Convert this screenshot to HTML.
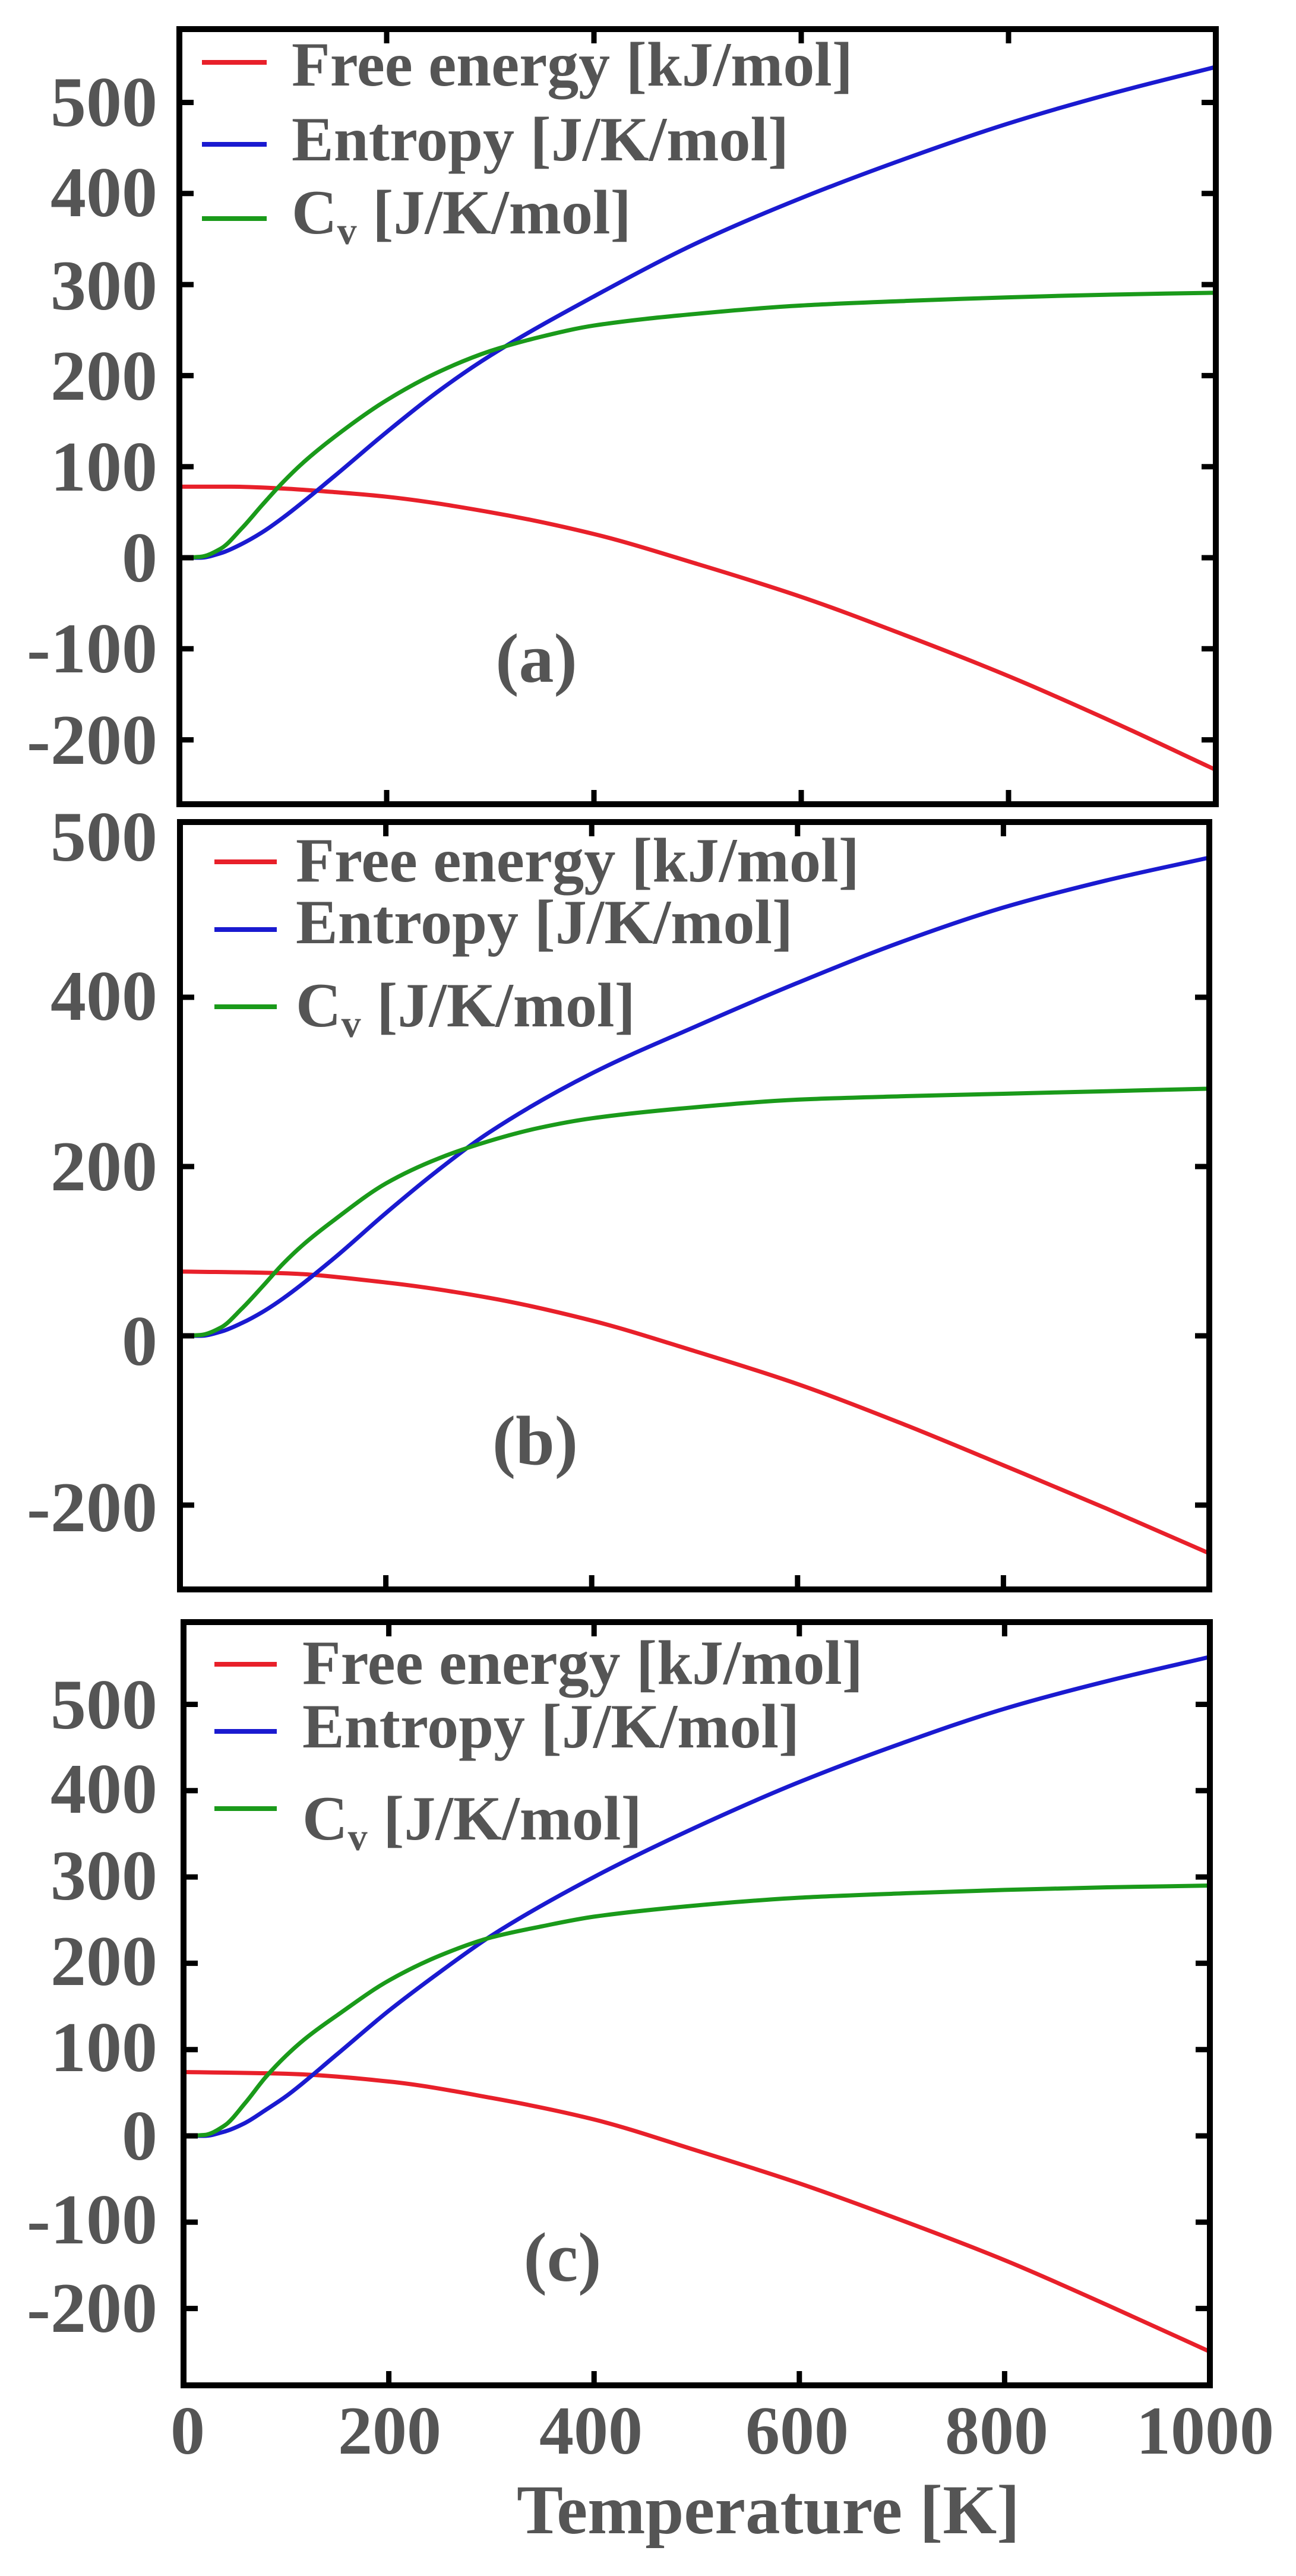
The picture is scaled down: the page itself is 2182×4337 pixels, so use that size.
<!DOCTYPE html>
<html><head><meta charset="utf-8">
<style>
html,body{margin:0;padding:0;background:#fff;}
svg{display:block;}
text{font-family:"Liberation Serif","Times New Roman",serif;font-weight:bold;fill:#555;}
</style></head>
<body>
<svg id="s" width="2182" height="4337" viewBox="0 0 2182 4337" xmlns="http://www.w3.org/2000/svg">
<rect width="2182" height="4337" fill="#fff"/>
<g id="g"></g>
<g font-size="120" text-anchor="end">
<text x="265" y="212">500</text>
<text x="265" y="364">400</text>
<text x="265" y="521">300</text>
<text x="265" y="673">200</text>
<text x="265" y="826">100</text>
<text x="265" y="979">0</text>
<text x="265" y="1132">-100</text>
<text x="265" y="1286">-200</text>
<text x="265" y="1449">500</text>
<text x="265" y="1717">400</text>
<text x="265" y="2004">200</text>
<text x="265" y="2298">0</text>
<text x="265" y="2578">-200</text>
<text x="265" y="2910">500</text>
<text x="265" y="3052">400</text>
<text x="265" y="3198">300</text>
<text x="265" y="3342">200</text>
<text x="265" y="3487">100</text>
<text x="265" y="3636">0</text>
<text x="265" y="3777">-100</text>
<text x="265" y="3926">-200</text>
</g>
<g font-size="116" text-anchor="middle">
<text x="316" y="4131">0</text>
<text x="656" y="4131">200</text>
<text x="995" y="4131">400</text>
<text x="1342" y="4131">600</text>
<text x="1678" y="4131">800</text>
<text x="2029" y="4131">1000</text>
</g>
<text x="870" y="4265" font-size="118" textLength="847" lengthAdjust="spacingAndGlyphs">Temperature [K]</text>
<g font-size="118" text-anchor="middle">
<text x="903" y="1148">(a)</text>
<text x="901" y="2465">(b)</text>
<text x="947" y="3840">(c)</text>
</g>
<g font-size="106">
<text x="491" y="144" textLength="945" lengthAdjust="spacingAndGlyphs">Free energy [kJ/mol]</text>
<text x="491" y="270">Entropy [J/K/mol]</text>
<text x="491" y="393">C<tspan font-size="66" dy="18">v</tspan><tspan dy="-18"> [J/K/mol]</tspan></text>
<text x="498" y="1484" textLength="949" lengthAdjust="spacingAndGlyphs">Free energy [kJ/mol]</text>
<text x="498" y="1588">Entropy [J/K/mol]</text>
<text x="498" y="1728">C<tspan font-size="66" dy="18">v</tspan><tspan dy="-18"> [J/K/mol]</tspan></text>
<text x="509" y="2835" textLength="944" lengthAdjust="spacingAndGlyphs">Free energy [kJ/mol]</text>
<text x="509" y="2942">Entropy [J/K/mol]</text>
<text x="509" y="3097">C<tspan font-size="66" dy="18">v</tspan><tspan dy="-18"> [J/K/mol]</tspan></text>
</g>
</svg>
<script>
(function(){
var NS="http://www.w3.org/2000/svg",g=document.getElementById("g");
function el(n,a){var e=document.createElementNS(NS,n);for(var k in a)e.setAttribute(k,a[k]);g.appendChild(e);return e;}
function path(pts){
 var n=pts.length,d=[],m=[],i;
 for(i=0;i<n-1;i++)d[i]=(pts[i+1][1]-pts[i][1])/(pts[i+1][0]-pts[i][0]);
 m[0]=d[0];m[n-1]=d[n-2];
 for(i=1;i<n-1;i++){
  if(d[i-1]*d[i]<=0)m[i]=0;
  else{var h0=pts[i][0]-pts[i-1][0],h1=pts[i+1][0]-pts[i][0];
   var w1=2*h1+h0,w2=h1+2*h0;m[i]=(w1+w2)/(w1/d[i-1]+w2/d[i]);}
 }
 var s="M"+pts[0][0].toFixed(1)+","+pts[0][1].toFixed(1);
 for(i=0;i<n-1;i++){
  var h=pts[i+1][0]-pts[i][0];
  s+="C"+(pts[i][0]+h/3).toFixed(1)+","+(pts[i][1]+m[i]*h/3).toFixed(1)+" "+
     (pts[i+1][0]-h/3).toFixed(1)+","+(pts[i+1][1]-m[i+1]*h/3).toFixed(1)+" "+
     pts[i+1][0].toFixed(1)+","+pts[i+1][1].toFixed(1);
 }
 return s;
}
var P=[
 {x0:302,x1:2047,y0:49,y1:1354,z:939,k:1.533,ticks:[500,400,300,200,100,0,-100,-200],
  F:[[0,78],[50,78],[100,76],[150,72],[200,67],[300,50],[400,26],[500,-7],[600,-43],[700,-85],[800,-130],[900,-180],[1000,-233]],
  S:[[0,0],[20,0],[40,5],[60,15],[80,28],[100,44],[150,90],[200,138],[250,183],[300,222],[400,287],[500,346],[600,395],[700,438],[800,477],[900,510],[1000,539]],
  C:[[0,0],[20,1],[40,10],[60,32],[80,58],[100,83],[120,105],[150,133],[200,173],[250,204],[300,227],[350,243],[400,255],[500,268],[600,277],[700,282],[800,286],[900,289],[1000,291]],
  leg:[105,243,368],lx:[340,449]},
 {x0:303,x1:2036,y0:1384,y1:2676,z:2249,k:1.425,ticks:[400,200,0,-200],
  F:[[0,76],[100,74],[200,63],[300,45],[400,18],[500,-18],[600,-57],[700,-103],[800,-153],[900,-204],[1000,-257]],
  S:[[0,0],[20,0],[40,5],[60,15],[80,28],[100,44],[150,92],[200,145],[250,195],[300,240],[400,310],[500,365],[600,417],[700,465],[800,506],[900,538],[1000,565]],
  C:[[0,0],[20,1],[40,10],[60,32],[80,58],[100,85],[120,108],[150,137],[200,180],[250,209],[300,230],[350,246],[400,257],[500,270],[600,279],[700,283],[800,286],[900,289],[1000,292]],
  leg:[1451,1565,1695],lx:[361,466]},
 {x0:309,x1:2037,y0:2731,y1:4016,z:3596,k:1.453,ticks:[500,400,300,200,100,0,-100,-200],
  F:[[0,74],[100,72],[200,63],[300,44],[400,19],[500,-17],[600,-55],[700,-98],[800,-144],[900,-196],[1000,-250]],
  S:[[0,0],[20,0],[40,5],[60,15],[80,30],[100,46],[150,95],[200,145],[250,190],[300,232],[400,300],[500,358],[600,410],[700,455],[800,495],[900,527],[1000,555]],
  C:[[0,0],[20,1],[40,12],[60,38],[80,68],[100,93],[120,114],[150,140],[200,180],[250,209],[300,230],[350,243],[400,254],[500,267],[600,276],[700,281],[800,285],[900,288],[1000,290]],
  leg:[2802,2915,3045],lx:[361,466]}
];
P.forEach(function(p){
 var sx=(p.x1-p.x0)/1000;
 function X(t){return p.x0+t*sx;}
 function Y(v){return p.z-v*p.k;}
 [["F","#e8202a"],["S","#1a1ad0"],["C","#1a9a1a"]].forEach(function(s,i){
  var pts=p[s[0]].map(function(q){return [X(q[0]),Y(q[1])];});
  el("path",{d:path(pts),fill:"none",stroke:s[1],"stroke-width":7,"stroke-linejoin":"round"});
  el("line",{x1:p.lx[0],x2:p.lx[1],y1:p.leg[i],y2:p.leg[i],stroke:s[1],"stroke-width":8});
 });
 [200,400,600,800].forEach(function(t){
  el("line",{x1:X(t),x2:X(t),y1:p.y0,y2:p.y0+24,stroke:"#000","stroke-width":9});
  el("line",{x1:X(t),x2:X(t),y1:p.y1,y2:p.y1-24,stroke:"#000","stroke-width":9});
 });
 p.ticks.forEach(function(v){
  el("line",{x1:p.x0,x2:p.x0+24,y1:Y(v),y2:Y(v),stroke:"#000","stroke-width":9});
  el("line",{x1:p.x1,x2:p.x1-24,y1:Y(v),y2:Y(v),stroke:"#000","stroke-width":9});
 });
 el("rect",{x:p.x0,y:p.y0,width:p.x1-p.x0,height:p.y1-p.y0,fill:"none",stroke:"#000","stroke-width":10});
});
})();
</script>
</body></html>
